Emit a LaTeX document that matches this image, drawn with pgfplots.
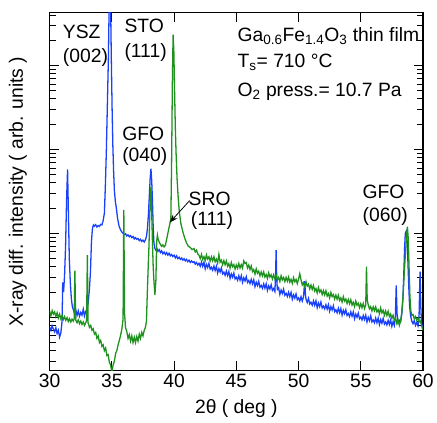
\documentclass[border=0pt]{standalone}
\usepackage{fontspec}
\setmainfont{Liberation Sans}
\usepackage{pgfplots}
\usepackage{pgfplotstable}
\pgfplotsset{compat=1.18}
\usetikzlibrary{arrows.meta}
\definecolor{xrdblue}{RGB}{25,65,250}
\definecolor{xrdgreen}{RGB}{30,145,30}

% blue scan
\pgfplotstableread{
x y
30.0 7.6
30.1 7.0
30.2 7.9
30.3 7.2
30.4 6.7
30.5 7.5
30.6 6.4
30.7 7.0
30.8 5.8
30.9 6.5
31.0 9.0
31.05 26
31.12 20
31.2 32
31.28 70
31.36 250
31.44 580
31.51 170
31.58 50
31.66 26
31.74 17
31.82 13.5
31.9 12.4
32.0 11.0
32.1 12.3
32.2 10.5
32.3 11.9
32.4 10.3
32.5 11.4
32.6 10.6
32.7 12.5
32.8 10.4
32.9 11.8
33.0 12.6
33.1 15
33.2 22
33.28 35
33.36 80
33.44 115
33.52 126
33.6 122
33.7 127
33.8 119
33.9 124
34.0 121
34.1 128
34.2 126
34.3 142
34.4 175
34.48 380
34.56 1000
34.64 3500
34.72 12000
34.8 80000
34.85 150000
34.9 50000
34.96 11000
35.02 3000
35.08 1100
35.14 550
35.2 330
35.28 240
35.36 200
35.46 150
35.58 122
35.7 110
35.8 104
35.9 100
36.0 97
36.1 99
36.2 93
36.3 96
36.4 91
36.5 94
36.6 89
36.7 92
36.8 86
36.9 89
37.0 85
37.1 87
37.2 82
37.3 85
37.4 80
37.5 83
37.6 79
37.7 84
37.78 92
37.86 115
37.94 170
38.02 300
38.08 460
38.14 590
38.2 430
38.26 250
38.32 120
38.38 77
38.46 66
38.54 63
38.62 66
38.7 61
38.8 64
38.9 59
39.0 62
39.1 57
39.2 60
39.3 56
39.4 59
39.5 55
39.6 58
39.7 54
39.8 56
39.9 53
40.0 55
40.1 51
40.2 54
40.3 50
40.4 52
40.5 49
40.6 51
40.7 48
40.8 50
40.9 47
41.0 49
41.1 46
41.2 48
41.3 45
41.4 47
41.5 45
41.6 46
41.7 43
41.8 45
41.9 42
42.0 44
42.1 40.5
42.2 45.6
42.3 40.4
42.4 45.4
42.5 37.8
42.6 42.7
42.7 39.1
42.8 43.9
42.9 37.5
43.0 39.5
43.1 36.3
43.2 40.8
43.3 36.1
43.4 40.5
43.5 33.7
43.6 38.0
43.7 34.6
43.8 38.7
43.9 32.9
44.0 34.5
44.1 31.6
44.2 35.5
44.3 31.4
44.4 35.1
44.5 29.1
44.6 32.9
44.7 30.0
44.8 33.6
44.9 28.6
45.0 30.0
45.1 27.6
45.2 31.3
45.3 27.7
45.4 31.3
45.5 26.1
45.6 29.6
45.7 27.1
45.8 30.5
45.9 26.0
46.0 27.5
46.1 25.2
46.2 28.3
46.3 25.0
46.4 28.0
46.5 23.2
46.6 26.2
46.7 23.9
46.8 26.8
46.9 22.8
47.0 24.0
47.1 22.1
47.2 25.0
47.3 22.2
47.4 25.1
47.5 20.9
47.6 23.7
47.7 21.7
47.8 24.4
47.9 20.9
48.0 22.0
48.1 20.3
48.15 30
48.2 63
48.25 28
48.3 21.5
48.4 22.5
48.5 18.7
48.6 21.1
48.7 19.2
48.8 21.6
48.9 18.3
49.0 19.3
49.1 17.7
49.2 19.9
49.3 17.6
49.4 19.8
49.5 16.4
49.6 18.5
49.7 16.9
49.8 19.0
49.9 16.2
50.0 17.0
50.1 15.6
50.2 17.6
50.3 15.6
50.4 17.5
50.45 22
50.5 27
50.55 19
50.6 16.4
50.7 15.0
50.8 16.8
50.9 14.4
51.0 15.1
51.1 13.9
51.2 15.7
51.3 13.9
51.4 15.7
51.5 13.0
51.6 14.8
51.7 13.4
51.8 15.2
51.9 12.9
52.0 13.6
52.1 12.6
52.2 14.1
52.3 12.5
52.4 14.1
52.5 11.8
52.6 13.4
52.7 12.2
52.8 13.7
52.9 11.7
53.0 12.3
53.1 11.3
53.2 12.8
53.3 11.3
53.4 12.7
53.5 10.6
53.6 12.1
53.7 11.0
53.8 12.3
53.9 10.5
54.0 11.1
54.1 10.2
54.2 11.6
54.3 10.3
54.4 11.6
54.5 9.6
54.6 10.9
54.7 10.0
54.8 11.2
54.9 9.6
55.0 10.1
55.1 9.3
55.2 10.5
55.3 9.4
55.4 10.6
55.5 8.8
55.6 10.0
55.7 9.1
55.8 10.4
55.9 8.8
56.0 9.3
56.1 8.6
56.2 9.8
56.3 8.6
56.4 9.8
56.5 8.2
56.6 9.4
56.7 8.5
56.8 9.7
56.9 8.3
57.0 8.8
57.1 8.1
57.2 9.2
57.3 8.2
57.4 9.3
57.5 7.8
57.6 8.9
57.7 8.0
57.78 10
57.85 24
57.92 11
58.0 8.6
58.1 9.2
58.2 8.8
58.3 11
58.38 16
58.45 30
58.52 65
58.58 100
58.65 106
58.72 85
58.78 50
58.85 25
58.92 14
59.0 10.5
59.1 9.0
59.2 8.4
59.3 9.1
59.4 8.0
59.5 8.7
59.6 7.9
59.68 9.5
59.74 25
59.77 35
59.82 14
59.88 8.5
59.95 7.8
60.0 7.2
}\bluescan

% green scan
\pgfplotstableread{
x y
30.0 11.8
30.1 10.4
30.2 12.0
30.3 10.9
30.4 11.6
30.5 10.2
30.6 11.3
30.7 9.8
30.8 10.9
30.9 9.6
31.0 10.5
31.1 9.4
31.2 10.2
31.3 9.2
31.4 9.9
31.5 8.9
31.6 9.6
31.7 8.8
31.8 9.5
31.9 9.0
31.97 9.6
32.03 36
32.09 9.3
32.2 8.6
32.3 9.3
32.4 8.4
32.5 9.0
32.6 8.2
32.7 8.8
32.8 8.0
32.9 8.6
32.97 9.2
33.03 55
33.09 8.6
33.2 7.6
33.3 8.0
33.4 7.0
33.5 7.3
33.6 6.3
33.7 6.6
33.8 5.6
33.9 6.0
34.0 5.0
34.1 5.3
34.2 4.5
34.3 4.7
34.4 4.0
34.5 4.3
34.6 3.5
34.7 3.6
34.8 2.9
34.9 2.7
35.0 2.2
35.1 2.7
35.2 3.0
35.3 3.7
35.4 4.0
35.5 4.7
35.6 5.3
35.7 6.1
35.8 7.2
35.9 9.5
35.96 190
36.02 11
36.1 7.5
36.2 6.8
36.3 5.6
36.4 6.2
36.5 5.2
36.6 6.0
36.7 5.0
36.8 5.8
36.9 5.0
37.0 5.9
37.1 5.2
37.2 6.3
37.3 5.6
37.4 6.6
37.5 6.0
37.6 7.0
37.7 7.6
37.78 9
37.84 18
37.92 40
37.98 70
38.06 200
38.14 360
38.2 180
38.26 80
38.32 40
38.38 27
38.46 18.5
38.54 28
38.6 80
38.66 95
38.72 85
38.8 79
38.9 74
39.0 70
39.1 73
39.2 69
39.3 72
39.4 85
39.5 100
39.58 115
39.66 130
39.74 150
39.8 700
39.86 6000
39.92 23300
39.98 15000
40.04 5000
40.1 1800
40.16 900
40.24 450
40.32 280
40.42 180
40.55 130
40.7 105
40.85 88
41.0 77
41.15 70
41.3 68
41.45 64
41.6 66
41.7 60
41.8 63
41.9 57
42.0 55
42.1 50.1
42.2 56.1
42.3 49.0
42.4 52.8
42.5 47.4
42.6 55.3
42.7 49.4
42.8 52.6
42.9 46.8
43.0 52.5
43.1 47.1
43.2 52.6
43.3 45.9
43.4 49.4
43.5 44.2
43.6 56
43.7 45.4
43.8 48.0
43.9 42.4
44.0 47.3
44.1 42.2
44.2 46.9
44.3 40.6
44.4 43.5
44.5 38.6
44.6 44.9
44.7 40.0
44.8 42.4
44.9 37.6
45.0 42.0
45.1 38.4
45.2 43.7
45.3 38.7
45.4 42.4
45.5 38.6
45.6 47.0
45.7 43.7
45.8 44.9
45.9 38.7
46.0 42.0
46.1 37.1
46.2 40.9
46.3 35.1
46.4 37.1
46.5 32.7
46.6 37.8
46.7 33.5
46.8 35.4
46.9 31.2
47.0 34.7
47.1 31.1
47.2 34.7
47.3 30.2
47.4 32.4
47.5 29.0
47.6 33.8
47.7 30.2
47.8 32.1
47.9 28.6
48.0 32.0
48.1 28.7
48.2 32.0
48.3 27.8
48.4 29.9
48.5 26.7
48.6 31.2
48.7 27.9
48.8 29.8
48.9 26.6
49.0 29.9
49.1 26.9
49.2 30.1
49.3 26.2
49.4 28.3
49.5 25.3
49.6 29.6
49.7 26.5
49.8 28.3
49.9 25.2
50.0 28.4
50.1 33
50.2 28.0
50.3 24.3
50.4 25.9
50.5 23.0
50.6 26.6
50.7 23.5
50.8 24.8
50.9 21.8
51.0 24.2
51.1 21.5
51.2 23.9
51.3 20.6
51.4 22.0
51.5 19.5
51.6 22.6
51.7 20.0
51.8 21.2
51.9 18.7
52.0 20.8
52.1 18.5
52.2 20.7
52.3 17.9
52.4 19.2
52.5 17.0
52.6 19.8
52.7 17.6
52.8 18.6
52.9 16.5
53.0 18.4
53.1 16.4
53.2 18.3
53.3 15.9
53.4 17.0
53.5 15.2
53.6 17.6
53.7 15.6
53.8 16.5
53.9 14.6
54.0 16.3
54.1 14.5
54.2 16.2
54.3 14.0
54.4 15.1
54.5 13.4
54.6 15.6
54.7 13.9
54.8 14.7
54.9 13.0
55.0 14.5
55.1 13.0
55.2 14.6
55.3 12.7
55.4 14.0
55.46 40
55.52 16
55.6 14.1
55.7 12.6
55.8 13.4
55.9 11.9
56.0 13.3
56.1 12.0
56.2 13.3
56.3 11.6
56.4 12.3
56.5 11.0
56.6 12.9
56.7 11.3
56.8 12.1
56.9 10.6
57.0 11.9
57.1 10.5
57.2 11.8
57.3 10.2
57.4 10.9
57.5 9.7
57.6 10.6
57.7 9.2
57.8 9.8
57.9 8.4
58.0 9.2
58.1 8.0
58.2 9.0
58.3 11.5
58.4 18
58.5 35
58.6 60
58.68 95
58.75 120
58.82 85
58.88 40
58.95 18
59.02 12
59.1 10.5
59.2 10.8
59.3 9.6
59.4 10.2
59.5 9.2
59.6 9.7
59.7 8.8
59.8 9.0
59.9 7.8
60.0 7.0
}\greenscan

\begin{document}
\begin{tikzpicture}[font=\fontsize{19.5}{23}\selectfont]
\begin{axis}[
  scale only axis, width=376bp, height=360bp,
  xmin=30, xmax=60, ymode=log, ymin=2.33, ymax=42400,
  xtick={30,35,...,60},
  ytick={10,100,1000,10000},
  minor ytick={3,4,5,6,7,8,9,20,30,40,50,60,70,80,90,
    200,300,400,500,600,700,800,900,2000,3000,4000,5000,6000,7000,8000,9000,
    20000,30000,40000},
  log identify minor tick positions=false,
  yticklabel=\empty,
  tick align=inside,
  major tick length=9bp,
  minor tick length=6bp,
  axis line style={line width=1.2bp},
  tick style={black, line width=1bp},
  minor tick style={black, line width=1bp},
  /pgf/number format/assume math mode=true,
  xlabel={2θ ( deg )},
  ylabel={X-ray diff. intensity ( arb. units )},
  xlabel style={at={(axis description cs:0.5,-0.108)}, anchor=center},
  ylabel style={at={(axis description cs:-0.085,0.5)}, anchor=center},
]
\addplot[xrdblue, line width=1.3bp] table {\bluescan};
\addplot[xrdgreen, line width=1.3bp] table {\greenscan};

\node[anchor=base west, inner sep=0] at (rel axis cs:0.035,0.928) {YSZ};
\node[anchor=base west, inner sep=0] at (rel axis cs:0.035,0.861) {(002)};
\node[anchor=base west, inner sep=0] at (rel axis cs:0.200,0.944) {STO};
\node[anchor=base west, inner sep=0] at (rel axis cs:0.200,0.875) {(111)};
\node[anchor=base west, inner sep=0] at (rel axis cs:0.194,0.642) {GFO};
\node[anchor=base west, inner sep=0] at (rel axis cs:0.194,0.583) {(040)};
\node[anchor=base west, inner sep=0] at (rel axis cs:0.372,0.461) {SRO};
\node[anchor=base west, inner sep=0] at (rel axis cs:0.378,0.406) {(111)};
\node[anchor=base west, inner sep=0] at (rel axis cs:0.838,0.481) {GFO};
\node[anchor=base west, inner sep=0] at (rel axis cs:0.838,0.417) {(060)};
\node[anchor=base west, inner sep=0] at (rel axis cs:0.503,0.919)
  {Ga\textsubscript{0.6}Fe\textsubscript{1.4}O\textsubscript{3} thin film};
\node[anchor=base west, inner sep=0] at (rel axis cs:0.503,0.847)
  {T\textsubscript{s}= 710 °C};
\node[anchor=base west, inner sep=0] at (rel axis cs:0.503,0.767)
  {O\textsubscript{2} press.= 10.7 Pa};
\draw[-{Stealth[length=8bp,width=6bp]}, line width=0.8bp]
  (rel axis cs:0.375,0.475) -- (rel axis cs:0.322,0.414);
\end{axis}
\path ([shift={(-50bp,-53bp)}]current axis.south west)
  rectangle ([shift={(11bp,13bp)}]current axis.north east);
\end{tikzpicture}
\end{document}
